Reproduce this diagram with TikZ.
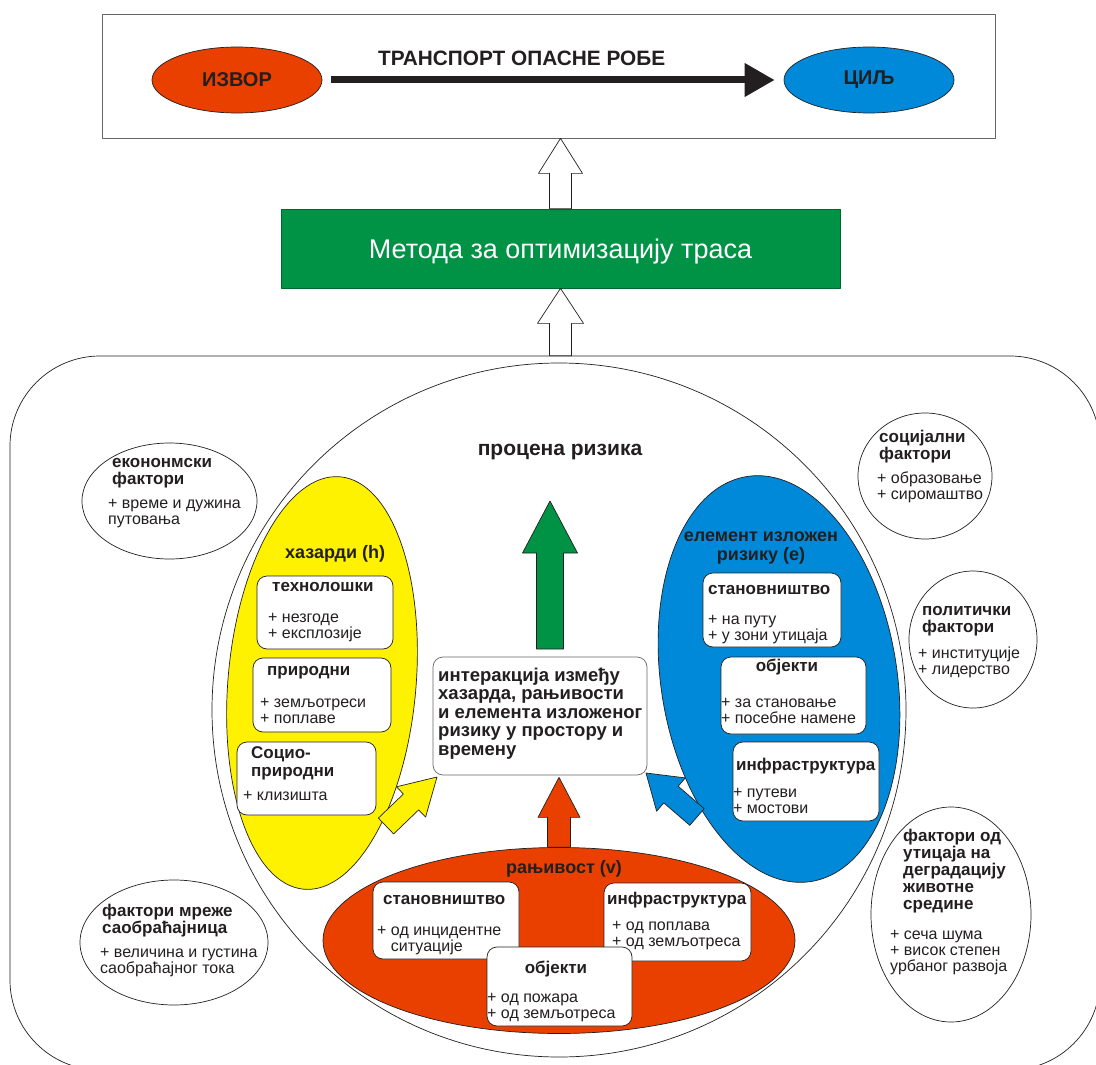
\documentclass[tikz,border=0pt]{standalone}
\usepackage{fontspec}
\setmainfont{Liberation Sans}
\usetikzlibrary{calc,shapes.geometric,arrows.meta}

\definecolor{tamna}{RGB}{35,31,32}
\definecolor{crvena}{RGB}{233,64,0}
\definecolor{plava}{RGB}{0,137,216}
\definecolor{zuta}{RGB}{255,242,0}
\definecolor{zelena}{RGB}{0,146,69}

%% Debela strelica : od, do, pola drske, pola glave, duzina glave, stil.
\newcommand\debelastrelica[6]{%
  \coordinate (glava) at ($(#2)!#5pt!(#1)$);
  \filldraw[#6] ($(#1)!#3pt!-90:(#2)$) -- ($(glava)!#3pt!-90:(#2)$)
    -- ($(glava)!#4pt!-90:(#2)$) -- (#2) -- ($(glava)!#4pt!90:(#2)$)
    -- ($(glava)!#3pt!90:(#2)$) -- ($(#1)!#3pt!90:(#2)$) -- cycle;
}

\begin{document}
\begin{tikzpicture}[x=1pt, y=-1pt, line join=round,
  obris/.style={draw=tamna, line width=.7pt},
  kutija/.style={obris, fill=white, rounded corners=10pt, inner sep=0pt},
  faktor/.style={obris, ellipse, inner sep=0pt},
  tacka/.style={obris, ellipse, minimum width=170pt, minimum height=66pt, text=tamna,
    font=\fontsize{20pt}{20pt}\selectfont\bfseries},
  naslov/.style={anchor=base west, inner sep=0pt, align=left, text=tamna,
    font=\fontsize{17pt}{17pt}\selectfont\bfseries},
  stavka/.style={anchor=base west, inner sep=0pt, align=left, text=tamna,
    font=\fontsize{16pt}{16pt}\selectfont},
  grupa/.style={anchor=base, inner sep=0pt, align=center, text=tamna,
    font=\fontsize{18pt}{19pt}\selectfont\bfseries}]

%% (y kod teksta u vise redova je osnovna linija poslednjeg reda)

\useasboundingbox (0,0) rectangle (1096,1065);
\fill[white] (0,0) rectangle (1096,1065);

%% Transport opasne robe.

\node[obris, draw=gray!80!black, minimum width=893pt, minimum height=124pt, inner sep=0pt] (prevozokvir) at (548.5,76) {};
\node[tacka, fill=crvena] (izvor) at (237,80) {ИЗВОР};
\node[tacka, fill=plava] (cilj) at (869,80) {ЦИЉ};
\draw[line width=7pt, tamna, -{Triangle[length=30pt,width=32pt]}, shorten <=9pt, shorten >=9pt]
  (izvor) -- node[pos=.432, above=11pt, inner sep=0pt, text=tamna,
    font=\fontsize{20.8pt}{20.8pt}\selectfont\bfseries] (prevoz) {ТРАНСПОРТ ОПАСНЕ РОБЕ} (cilj);

%% Metoda.

\node[obris, draw=zelena!70!black, fill=zelena, minimum width=559pt, minimum height=79pt, text=white,
  text depth=0pt, font=\fontsize{27pt}{27pt}\selectfont] (metoda) at (560.5,248.5) {Метода за оптимизацију траса};
\debelastrelica{metoda.north}{metoda.north |- prevozokvir.south}{11}{22}{35}{obris, fill=white}

%% Okvir i faktori.

\node[obris, rounded corners=90pt, minimum width=1090pt, minimum height=714pt, inner sep=0pt] (okvir) at (555,713) {};
\debelastrelica{metoda.south |- okvir.north}{metoda.south}{11}{23}{35}{obris, fill=white}

\node[faktor, minimum width=175pt, minimum height=116pt] (ekonomski) at (169.5,501) {};
\node[naslov] (ekonomskiN) at (112,484) {екононмски\\фактори};
\node[stavka] (ekonomskiS) at (108,524) {+ време и дужина\\путовања};

\node[faktor, minimum width=134pt, minimum height=126pt] (socijalni) at (925,476) {};
\node[naslov] (socijalniN) at (879,459.5) {социјални\\фактори};
\node[stavka] (socijalniS) at (877,499) {+ образовање\\+ сиромаштво};

\node[faktor, minimum width=128pt, minimum height=137pt] (politicki) at (973,639.5) {};
\node[naslov] (politickiN) at (922,632.5) {политички\\фактори};
\node[stavka] (politickiS) at (918,674) {+ институције\\+ лидерство};

\node[faktor, minimum width=160pt, minimum height=215pt] (zivotna) at (951,914.5) {};
\node[naslov] (zivotnaN) at (903,909.5) {фактори од\\утицаја на\\деградацију\\животне\\средине};
\node[stavka] (zivotnaS) at (890,971) {+ сеча шума\\+ висок степен\\урбаног развоја};

\node[faktor, minimum width=188pt, minimum height=125pt] (mreza) at (174,942.5) {};
\node[naslov] (mrezaN) at (102,933.5) {фактори мреже\\саобраћајница};
\node[stavka] (mrezaS) at (100,973) {+ величина и густина\\саобраћајног тока};

%% Procena rizika.

\node[obris, circle, minimum size=694pt, inner sep=0pt] (procenakrug) at (559,710) {};
\node[grupa, font=\fontsize{21pt}{21pt}\selectfont\bfseries] (procena) at (560,455) {процена ризика};

%% Hazardi.

\node[obris, ellipse, fill=zuta, minimum width=188pt, minimum height=414pt, rotate=-5] (hazardi) at (322,683) {};
\node[grupa, anchor=base west] (hazardiN) at (285,558) {хазарди (h)};
\node[kutija, minimum width=136pt, minimum height=73pt] (tehnoloski) at (325,612.5) {};
\node[naslov] (tehnoloskiN) at (272,591.5) {технолошки};
\node[stavka] (tehnoloskiS) at (268,638) {+ незгоде\\+ експлозије};
\node[kutija, minimum width=138pt, minimum height=74pt] (prirodni) at (322,695) {};
\node[naslov] (prirodniN) at (267,675.5) {природни};
\node[stavka] (prirodniS) at (260,723) {+ земљотреси\\+ поплаве};
\node[kutija, minimum width=139pt, minimum height=73pt] (socio) at (306.5,778.5) {};
\node[naslov, font=\fontsize{17pt}{18pt}\selectfont\bfseries] (socioN) at (251,776) {Социо-\\природни};
\node[stavka] (socioS) at (243,800) {+ клизишта};

%% Element izlozen riziku.

\node[obris, ellipse, fill=plava, minimum width=236pt, minimum height=410pt, rotate=9] (element) at (779,679) {};
\node[grupa] (elementN) at (761,560.5) {елемент изложен\\ризику (e)};
\node[kutija, minimum width=138pt, minimum height=74pt] (bstan) at (772,610) {};
\node[naslov] (bstanN) at (708,594.5) {становништво};
\node[stavka] (bstanS) at (708,640) {+ на путу\\+ у зони утицаја};
\node[kutija, minimum width=145pt, minimum height=77pt] (bobj) at (793.5,695.5) {};
\node[naslov, anchor=base] (bobjN) at (787,671.5) {објекти};
\node[stavka] (bobjS) at (721,723) {+ за становање\\+ посебне намене};
\node[kutija, minimum width=146pt, minimum height=79pt] (binfra) at (806,781.5) {};
\node[naslov] (binfraN) at (736,770.5) {инфраструктура};
\node[stavka] (binfraS) at (733,813) {+ путеви\\+ мостови};

%% Ranjivost.

\node[obris, ellipse, fill=crvena, minimum width=472pt, minimum height=186pt] (ranjivost) at (559,940.5) {};
\node[grupa] (ranjivostN) at (564,873.5) {рањивост (v)};
\node[kutija, minimum width=146pt, minimum height=77pt] (rstan) at (446,920.5) {};
\node[naslov] (rstanN) at (383,904.5) {становништво};
\node[stavka] (rstanS) at (377,951) {+ од инцидентне\\\hphantom{+ }ситуације};
\node[kutija, minimum width=147pt, minimum height=78pt] (rinfra) at (677.5,922) {};
\node[naslov] (rinfraN) at (607,904.5) {инфраструктура};
\node[stavka] (rinfraS) at (612,946) {+ од поплава\\+ од земљотреса};
\node[kutija, minimum width=145pt, minimum height=79pt] (robj) at (559.5,986.5) {};
\node[naslov, anchor=base] (robjN) at (556,973.5) {објекти};
\node[stavka] (robjS) at (487,1018) {+ од пожара\\+ од земљотреса};

%% Interakcija i strelice.

\node[kutija, draw=gray!80!black, minimum width=214pt, minimum height=118pt] (interakcija) at (540,716) {};
\node[naslov, font=\fontsize{18.5pt}{18.5pt}\selectfont\bfseries] (interakcijaN) at (438,755)
  {интеракција између\\хазарда, рањивости\\и елемента изложеног\\ризику у простору и\\времену};

\coordinate (zelena-od) at (550,649);
\coordinate (zelena-do) at (550,501);
\debelastrelica{zelena-od}{zelena-do}{13.5}{27.5}{52}{obris, fill=zelena}
\coordinate (crvena-do) at ($(ranjivost.north |- interakcija.south)+(0,2)$);
\debelastrelica{ranjivost.north}{crvena-do}{11.5}{21}{40}{obris, fill=crvena}
\coordinate (zuta-od) at (386,826);
\coordinate (zuta-do) at (437,777);
\debelastrelica{zuta-od}{zuta-do}{11}{21}{36}{obris, fill=zuta}
\coordinate (plava-od) at (697,817);
\coordinate (plava-do) at (646,773);
\debelastrelica{plava-od}{plava-do}{11}{22}{33}{obris, fill=plava}

\end{tikzpicture}
\end{document}
